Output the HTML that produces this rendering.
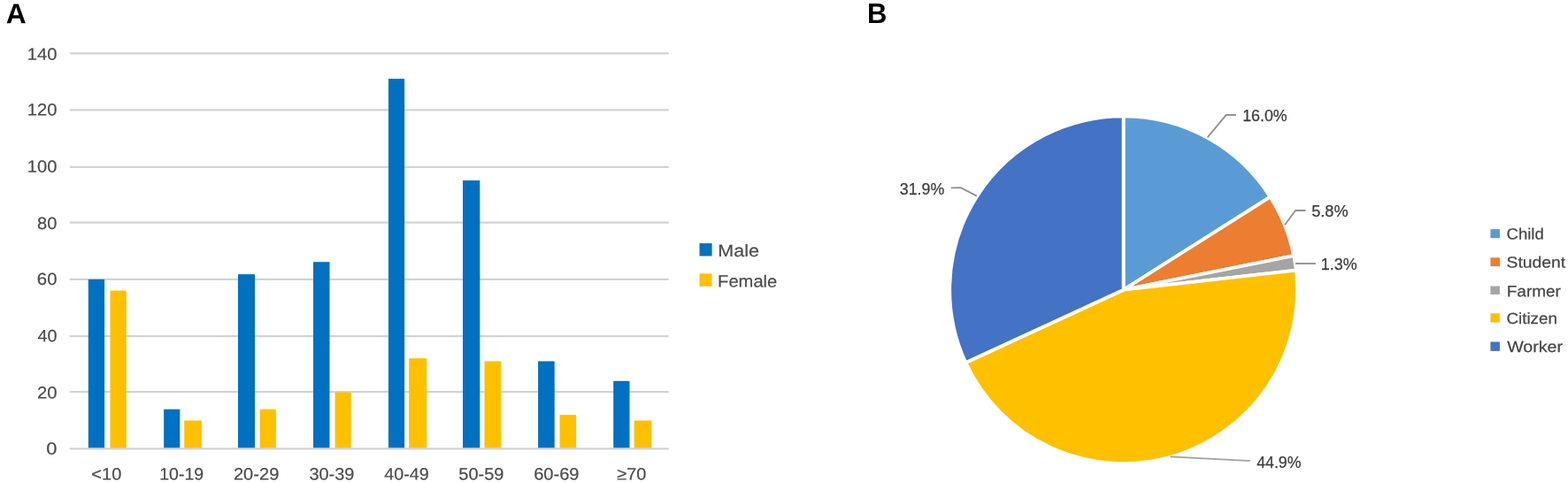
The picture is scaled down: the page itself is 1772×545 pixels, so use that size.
<!DOCTYPE html>
<html><head><meta charset="utf-8"><title>Figure</title>
<style>
html,body{margin:0;padding:0;background:#fff;}
body{width:1772px;height:545px;overflow:hidden;}
svg{display:block;}
text{font-family:"Liberation Sans",sans-serif;}
.a{fill:#4b4b4b;stroke:#4b4b4b;stroke-width:0.2px;}
.t{fill:#474747;stroke:#474747;stroke-width:0.25px;}
.d{fill:#3c3c3c;stroke:#3c3c3c;stroke-width:0.25px;}
.p{font-weight:bold;fill:#000;}
</style></head><body>
<svg width="1772" height="545" viewBox="0 0 1772 545">
<rect width="1772" height="545" fill="#fff"/>
<line x1="78.7" x2="755.8" y1="443.20" y2="443.20" stroke="#D3D3D3" stroke-width="2.2"/>
<line x1="78.7" x2="755.8" y1="380.20" y2="380.20" stroke="#D3D3D3" stroke-width="2.2"/>
<line x1="78.7" x2="755.8" y1="315.85" y2="315.85" stroke="#D3D3D3" stroke-width="2.2"/>
<line x1="78.7" x2="755.8" y1="251.70" y2="251.70" stroke="#D3D3D3" stroke-width="2.2"/>
<line x1="78.7" x2="755.8" y1="188.80" y2="188.80" stroke="#D3D3D3" stroke-width="2.2"/>
<line x1="78.7" x2="755.8" y1="124.40" y2="124.40" stroke="#D3D3D3" stroke-width="2.2"/>
<line x1="78.7" x2="755.8" y1="60.30" y2="60.30" stroke="#D3D3D3" stroke-width="2.2"/>
<rect x="99.82" y="315.81" width="18.33" height="191.64" fill="#0070C0"/>
<rect x="124.50" y="328.59" width="18.32" height="178.86" fill="#FFC000"/>
<rect x="185.10" y="462.74" width="18.23" height="44.71" fill="#0070C0"/>
<rect x="208.23" y="475.51" width="19.67" height="31.94" fill="#FFC000"/>
<rect x="269.00" y="310.10" width="19.05" height="197.35" fill="#0070C0"/>
<rect x="293.67" y="462.74" width="18.15" height="44.71" fill="#FFC000"/>
<rect x="354.00" y="296.20" width="18.50" height="211.25" fill="#0070C0"/>
<rect x="378.58" y="443.57" width="18.15" height="63.88" fill="#FFC000"/>
<rect x="439.00" y="89.05" width="18.15" height="418.40" fill="#0070C0"/>
<rect x="462.14" y="405.24" width="20.13" height="102.21" fill="#FFC000"/>
<rect x="523.00" y="204.03" width="19.33" height="303.42" fill="#0070C0"/>
<rect x="547.50" y="408.44" width="18.78" height="99.01" fill="#FFC000"/>
<rect x="608.10" y="408.44" width="18.60" height="99.01" fill="#0070C0"/>
<rect x="632.50" y="469.12" width="18.60" height="38.33" fill="#FFC000"/>
<rect x="693.20" y="430.80" width="18.30" height="76.65" fill="#0070C0"/>
<rect x="716.68" y="475.51" width="19.68" height="31.94" fill="#FFC000"/>
<line x1="78.7" x2="755.8" y1="507.45" y2="507.45" stroke="#D3D3D3" stroke-width="2.2"/>
<rect x="790.5" y="275.1" width="14.1" height="14.4" fill="#0070C0"/>
<rect x="790.5" y="309.4" width="14.1" height="14.4" fill="#FFC000"/>
<path d="M1269.6,327.7 L1269.60,131.35 A196.35,196.35 0 0 1 1435.50,222.68 Z" fill="#5B9BD5" stroke="#fff" stroke-width="3.8" stroke-linejoin="round"/>
<path d="M1269.6,327.7 L1435.50,222.68 A196.35,196.35 0 0 1 1462.13,289.17 Z" fill="#ED7D31" stroke="#fff" stroke-width="3.8" stroke-linejoin="round"/>
<path d="M1269.6,327.7 L1462.13,289.17 A196.35,196.35 0 0 1 1464.70,305.58 Z" fill="#A5A5A5" stroke="#fff" stroke-width="3.8" stroke-linejoin="round"/>
<path d="M1269.6,327.7 L1464.70,305.58 A196.35,196.35 0 0 1 1091.34,410.03 Z" fill="#FFC000" stroke="#fff" stroke-width="3.8" stroke-linejoin="round"/>
<path d="M1269.6,327.7 L1091.34,410.03 A196.35,196.35 0 0 1 1269.60,131.35 Z" fill="#4472C4" stroke="#fff" stroke-width="3.8" stroke-linejoin="round"/>
<polyline points="1364.6,155.3 1385.5,130.05 1396.9,130.05" fill="none" stroke="#929292" stroke-width="1.9" stroke-linejoin="round"/>
<polyline points="1452,254.2 1464.0,238.05 1475.4,238.05" fill="none" stroke="#929292" stroke-width="1.9" stroke-linejoin="round"/>
<polyline points="1464,298 1486.8,298" fill="none" stroke="#929292" stroke-width="1.9" stroke-linejoin="round"/>
<polyline points="1322.5,516.45 1412.8,521.2" fill="none" stroke="#A0A0A0" stroke-width="1.8" stroke-linejoin="round"/>
<polyline points="1074.7,212.35 1085.7,212.1 1103.9,221.7" fill="none" stroke="#929292" stroke-width="1.9" stroke-linejoin="round"/>
<rect x="1684.4" y="259.1" width="10.5" height="10.1" fill="#5B9BD5"/>
<rect x="1684.4" y="291.3" width="10.5" height="9.8" fill="#ED7D31"/>
<rect x="1684.4" y="323.5" width="10.5" height="9.4" fill="#A5A5A5"/>
<rect x="1684.4" y="354.3" width="10.5" height="10.2" fill="#FFC000"/>
<rect x="1684.4" y="386.5" width="10.5" height="10.4" fill="#4472C4"/>
<text transform="translate(52.31,513.70) matrix(1 0.0005 0 1 0 0)" class="a" font-size="19.3" textLength="12.18" lengthAdjust="spacingAndGlyphs">0</text>
<text transform="translate(41.88,450.60) matrix(1 0.0005 0 1 0 0)" class="a" font-size="19.3" textLength="22.55" lengthAdjust="spacingAndGlyphs">20</text>
<text transform="translate(42.45,386.25) matrix(1 0.0005 0 1 0 0)" class="a" font-size="19.3" textLength="21.97" lengthAdjust="spacingAndGlyphs">40</text>
<text transform="translate(41.87,322.05) matrix(1 0.0005 0 1 0 0)" class="a" font-size="19.3" textLength="22.56" lengthAdjust="spacingAndGlyphs">60</text>
<text transform="translate(42.03,259.06) matrix(1 0.0005 0 1 0 0)" class="a" font-size="19.3" textLength="22.40" lengthAdjust="spacingAndGlyphs">80</text>
<text transform="translate(30.71,194.85) matrix(1 0.0005 0 1 0 0)" class="a" font-size="19.3" textLength="33.72" lengthAdjust="spacingAndGlyphs">100</text>
<text transform="translate(30.71,130.55) matrix(1 0.0005 0 1 0 0)" class="a" font-size="19.3" textLength="33.72" lengthAdjust="spacingAndGlyphs">120</text>
<text transform="translate(30.71,67.80) matrix(1 0.0005 0 1 0 0)" class="a" font-size="19.3" textLength="33.72" lengthAdjust="spacingAndGlyphs">140</text>
<text transform="translate(103.37,542.40) matrix(1 0.0005 0 1 0 0)" class="a" font-size="19.3" textLength="33.91" lengthAdjust="spacingAndGlyphs">&lt;10</text>
<text transform="translate(180.26,542.40) matrix(1 0.0005 0 1 0 0)" class="a" font-size="19.3" textLength="49.96" lengthAdjust="spacingAndGlyphs">10-19</text>
<text transform="translate(263.94,542.40) matrix(1 0.0005 0 1 0 0)" class="a" font-size="19.3" textLength="51.41" lengthAdjust="spacingAndGlyphs">20-29</text>
<text transform="translate(349.39,542.40) matrix(1 0.0005 0 1 0 0)" class="a" font-size="19.3" textLength="51.05" lengthAdjust="spacingAndGlyphs">30-39</text>
<text transform="translate(434.20,542.40) matrix(1 0.0005 0 1 0 0)" class="a" font-size="19.3" textLength="50.43" lengthAdjust="spacingAndGlyphs">40-49</text>
<text transform="translate(518.25,542.40) matrix(1 0.0005 0 1 0 0)" class="a" font-size="19.3" textLength="51.19" lengthAdjust="spacingAndGlyphs">50-59</text>
<text transform="translate(603.13,542.40) matrix(1 0.0005 0 1 0 0)" class="a" font-size="19.3" textLength="51.42" lengthAdjust="spacingAndGlyphs">60-69</text>
<text transform="translate(697.22,542.40) matrix(1 0.0005 0 1 0 0)" class="a" font-size="19.3" textLength="33.05" lengthAdjust="spacingAndGlyphs">≥70</text>
<text transform="translate(811.34,290.00) matrix(1 0.0005 0 1 0 0)" class="a" font-size="19.3" textLength="46.65" lengthAdjust="spacingAndGlyphs">Male</text>
<text transform="translate(811.10,324.60) matrix(1 0.0005 0 1 0 0)" class="a" font-size="19.3" textLength="67.19" lengthAdjust="spacingAndGlyphs">Female</text>
<text transform="translate(1404.16,137.25) matrix(1 0.0005 0 1 0 0)" class="d" font-size="18.7" textLength="50.45" lengthAdjust="spacingAndGlyphs">16.0%</text>
<text transform="translate(1482.19,245.30) matrix(1 0.0005 0 1 0 0)" class="d" font-size="18.7" textLength="41.43" lengthAdjust="spacingAndGlyphs">5.8%</text>
<text transform="translate(1492.75,305.40) matrix(1 0.0005 0 1 0 0)" class="d" font-size="18.7" textLength="40.87" lengthAdjust="spacingAndGlyphs">1.3%</text>
<text transform="translate(1420.21,528.65) matrix(1 0.0005 0 1 0 0)" class="d" font-size="18.7" textLength="50.20" lengthAdjust="spacingAndGlyphs">44.9%</text>
<text transform="translate(1016.74,219.60) matrix(1 0.0005 0 1 0 0)" class="d" font-size="18.7" textLength="50.47" lengthAdjust="spacingAndGlyphs">31.9%</text>
<text transform="translate(1702.59,270.55) matrix(1 0.0005 0 1 0 0)" class="t" font-size="17.7" textLength="42.07" lengthAdjust="spacingAndGlyphs">Child</text>
<text transform="translate(1702.56,302.40) matrix(1 0.0005 0 1 0 0)" class="t" font-size="17.7" textLength="66.65" lengthAdjust="spacingAndGlyphs">Student</text>
<text transform="translate(1702.78,335.15) matrix(1 0.0005 0 1 0 0)" class="t" font-size="17.7" textLength="61.15" lengthAdjust="spacingAndGlyphs">Farmer</text>
<text transform="translate(1702.48,365.90) matrix(1 0.0005 0 1 0 0)" class="t" font-size="17.7" textLength="57.36" lengthAdjust="spacingAndGlyphs">Citizen</text>
<text transform="translate(1703.15,398.00) matrix(1 0.0005 0 1 0 0)" class="t" font-size="17.7" textLength="62.94" lengthAdjust="spacingAndGlyphs">Worker</text>
<text transform="translate(6.66,26.20) matrix(1 0.0005 0 1 0 0)" class="p" font-size="31.8" textLength="22.93" lengthAdjust="spacingAndGlyphs">A</text>
<text transform="translate(980.03,26.40) matrix(1 0.0005 0 1 0 0)" class="p" font-size="31.8" textLength="22.38" lengthAdjust="spacingAndGlyphs">B</text>
</svg>
</body></html>
